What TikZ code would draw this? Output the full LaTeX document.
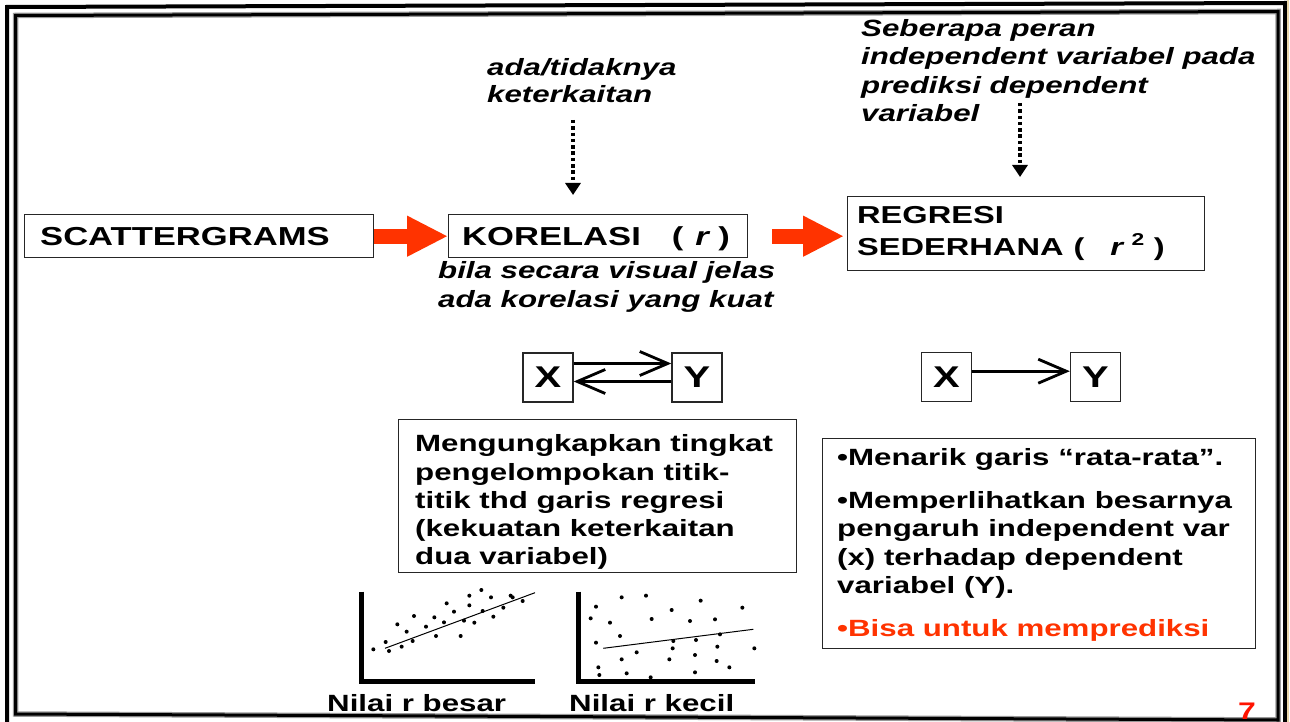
\documentclass[tikz,border=0pt]{standalone}
\usepackage{fontspec}
\setmainfont{Liberation Sans}[FakeStretch=1.33]
\usetikzlibrary{arrows.meta}
\definecolor{arrred}{RGB}{255,51,0}
\definecolor{pagered}{RGB}{255,20,0}
\definecolor{framegray}{gray}{0.6}
\definecolor{tanline}{RGB}{232,214,170}
\begin{document}
\begin{tikzpicture}[x=1pt,y=-1pt,
  lbl/.style={inner sep=0pt, anchor=base west, align=left, font=\bfseries\fontsize{23.5}{28.3}\selectfont},
  ital/.style={lbl, font=\bfseries\itshape\fontsize{23.5}{28.3}\selectfont},
  titlebox/.style={draw=black!85, line width=1.4pt, inner sep=0pt, anchor=north west},
  xybox/.style={draw=black!85, line width=1.4pt, inner sep=0pt, minimum width=50pt, minimum height=49pt, font=\bfseries\fontsize{30}{30}\selectfont},
  bigarrow/.style={arrred, line width=15pt, -{Triangle[length=41pt,width=38pt]}},
  dotarrow/.style={line width=3.5pt, dash pattern=on 3.5pt off 2.8pt, -{Triangle[length=12pt,width=15pt]}},
  thinarrow/.style={line width=2.8pt, -{Straight Barb[length=28pt,width=24pt]}},
  axis/.style={line width=5pt, line join=miter},
  fitline/.style={line width=1pt}
]
\useasboundingbox (0,0) rectangle (1290,722);
\clip (0,0) rectangle (1290,722);
\fill[white] (0,0) rectangle (1290,722);

% frame
\draw[line width=4pt] (7,740) -- (7,7) -- (1285,3) -- (1285,740);
\draw[framegray, line width=5.5pt] (15.5,714) -- (15.5,15.5) -- (1278,11.5) -- (1278,720) -- cycle;
\draw[line width=3pt] (15.5,714) -- (15.5,15.5) -- (1278,11.5) -- (1278,720) -- cycle;
\draw[tanline, line width=2pt] (1288,0) -- (1288,722);

% boxes
\node[titlebox, minimum width=349pt, minimum height=43pt] (scat) at (24,214) {};
\node[titlebox, minimum width=299pt, minimum height=43pt] (kor) at (448,214) {};
\node[titlebox, minimum width=357pt, minimum height=74pt] (reg) at (847,196) {};
\node[titlebox, minimum width=398pt, minimum height=153pt] (meng) at (398,419) {};
\node[titlebox, minimum width=433pt, minimum height=210pt] (menarik) at (822,438) {};

% texts (base anchor = baseline of the last line)
\node[lbl, font=\bfseries\fontsize{26}{30}\selectfont] (tscat) at (40,245) {SCATTERGRAMS};
\node[lbl, font=\bfseries\fontsize{26}{30}\selectfont] (tkor) at (462,245) {KORELASI\hspace{31pt}(\hspace{12pt}\textit{r}\hspace{8pt})};
\node[lbl, font=\bfseries\fontsize{24.5}{32}\selectfont] (treg) at (857,255) {REGRESI\\SEDERHANA\hspace{10pt}(\hspace{26pt}\textit{r}\hspace{7pt}\textsuperscript{2}\hspace{9pt})};

\node[ital, font=\bfseries\itshape\fontsize{23.5}{27}\selectfont] (tada) at (487,103) {ada/tidaknya\\keterkaitan};
\node[ital] (tseb) at (861,121.6) {Seberapa peran\\independent variabel pada\\prediksi dependent\\variabel};
\node[ital, font=\bfseries\itshape\fontsize{23.5}{29}\selectfont] (tbila) at (438,307) {bila secara visual jelas\\ada korelasi yang kuat};
\node[lbl] (tmeng) at (415,564.9) {Mengungkapkan tingkat\\pengelompokan titik-\\titik thd garis regresi\\(kekuatan keterkaitan\\dua variabel)};
\node[lbl] (tmen) at (837,636.7) {•Menarik garis “rata-rata”.\\[15pt]•Memperlihatkan besarnya\\pengaruh independent var\\(x) terhadap dependent\\variabel (Y).\\[15pt]\textcolor{arrred}{•Bisa untuk memprediksi}};

% big arrows
\draw[bigarrow] (scat.east) -- (kor.west);
\draw[bigarrow, shorten <=24pt, shorten >=3pt] (kor.east) -- (reg.west |- kor.east);

% dotted arrows
\coordinate (d1a) at (573,120);
\coordinate (d1b) at (573,195);
\draw[dotarrow] (d1a) -- (d1b);
\coordinate (d2a) at (1020,103);
\coordinate (d2b) at (1020,177);
\draw[dotarrow] (d2a) -- (d2b);

% X Y
\node[xybox] (xl) at (548,377.5) {X};
\node[xybox] (yl) at (697,377.5) {Y};
\draw[thinarrow] ([yshift=14pt]xl.east) -- ([yshift=14pt]yl.west);
\draw[thinarrow] ([yshift=-4pt]yl.west) -- ([yshift=-4pt]xl.east);
\node[xybox] (xr) at (946.5,376.7) {X};
\node[xybox] (yr) at (1095.5,376.7) {Y};
\draw[thinarrow] ([yshift=5.5pt]xr.east) -- ([yshift=5.5pt]yr.west);

% scatter plots
\draw[axis] (361.7,591.7) -- (361.7,681.7) -- (535,681.7);
\draw[fitline] (385,648.3) -- (535,592.7);
\foreach \a/\b in {100/208,137/186,147/213,172/133,185/200,200/155,218/183,222/108,258/140,283/112,288/168,312/127,320/70,342/95,362/168,372/122,388/47,388/76,403/128,424/30,428/93,453/52,460/110,490/83,512/47,518/52,548/63}
  \fill (340+\a/3,580+\b/3) circle (2pt);
\draw[axis] (578.3,591.7) -- (578.3,681.7) -- (755,681.7);
\draw[fitline] (603.3,648.3) -- (753.3,629.3);
\foreach \a/\b in {768/80,752/115,810/128,845/52,918/47,768/188,840/168,935/117,995/90,1082/62,1050/123,1125/118,1207/83,1000/183,1068/180,1140/163,890/217,998/205,1132/200,1243/205,845/238,988/238,1065/225,1130/243,1168/262,775/262,778/285,860/280,932/292,1065/277}
  \fill (340+\a/3,580+\b/3) circle (2pt);

\node[lbl] (nb) at (327,711) {Nilai r besar};
\node[lbl] (nk) at (569,711) {Nilai r kecil};
\node[lbl, font=\bfseries\fontsize{24}{24}\selectfont, text=pagered] (pg) at (1238,719) {7};
\end{tikzpicture}
\end{document}
